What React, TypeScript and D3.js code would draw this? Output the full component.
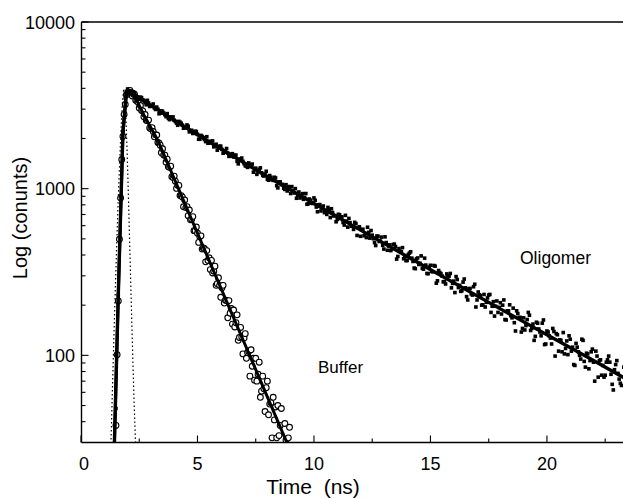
import React from 'react';
import * as d3 from 'd3';

// time-resolved fluorescence decays (TCSPC), counts per channel
const OLIGO_T0 = 1.5;
const OLIGO_DT = 0.1;
const oligomerCounts = [
  48, 230, 900, 2200, 3500,
  3962, 3732, 3763, 3772, 3558, 3448, 3516, 3381, 3187, 3269,
  3140, 3223, 2987, 2998, 2839, 2910, 2781, 2820, 2595, 2659,
  2574, 2475, 2533, 2471, 2306, 2346, 2369, 2215, 2144, 2212,
  2119, 1979, 2059, 1972, 2050, 1875, 1895, 1782, 1848, 1757,
  1798, 1631, 1693, 1636, 1567, 1622, 1582, 1459, 1500, 1527,
  1412, 1362, 1427, 1360, 1256, 1327, 1264, 1333, 1201, 1224,
  1139, 1199, 1132, 1171, 1042, 1098, 1058, 1007, 1057, 1030,
  935, 974, 1001, 913, 879, 934, 885, 806, 867, 819,
  880, 776, 800, 735, 787, 736, 772, 671, 719, 690,
  653, 697, 678, 605, 639, 663, 595, 570, 617, 580,
  518, 571, 536, 587, 505, 526, 475, 520, 482, 512,
  434, 475, 453, 425, 462, 449, 392, 421, 443, 389,
  371, 411, 383, 334, 379, 351, 395, 329, 348, 309,
  347, 317, 343, 280, 314, 299, 277, 308, 299, 254,
  279, 297, 255, 242, 275, 254, 215, 252, 230, 267,
  215, 231, 200, 232, 208, 230, 181, 210, 197, 181,
  207, 200, 164, 185, 201, 168, 157, 185, 168, 138,
  168, 151, 181, 141, 154, 130, 156, 138, 156, 116,
  140, 131, 117, 139, 135, 106, 123, 137, 110, 101,
  125, 112, 87, 112, 100, 125, 92, 103, 83, 105,
  91, 106, 74, 94, 87, 76, 94, 91, 67, 82,
  93, 72, 66, 85,
];

// interleaved channels, half a step later
const OLIGO_T0_B = 2.05;
const oligomerCountsB = [
  3780, 3829, 3813, 3602, 3433, 3544, 3411, 3287, 3388, 3113,
  3157, 3050, 3087, 2814, 2930, 2844, 2704, 2642, 2695, 2694,
  2528, 2401, 2506, 2406, 2314, 2412, 2192, 2240, 2160, 2201,
  1980, 2088, 2024, 1916, 1873, 1926, 1934, 1803, 1702, 1799,
  1721, 1652, 1742, 1562, 1610, 1549, 1591, 1409, 1507, 1459,
  1372, 1342, 1393, 1405, 1299, 1219, 1307, 1246, 1191, 1271,
  1124, 1169, 1121, 1160, 1011, 1098, 1061, 990, 969, 1015,
  1029, 942, 876, 955, 906, 863, 935, 812, 853, 815,
  852, 727, 803, 775, 718, 701, 744, 758, 686, 633,
  702, 663, 627, 692, 588, 625, 596, 628, 524, 591,
  568, 522, 509, 547, 561, 501, 456, 518, 485, 457,
  514, 427, 460, 436, 465, 378, 437, 418, 380, 370,
  403, 418, 366, 331, 384, 357, 333, 383, 310, 339,
  319, 346, 271, 323, 309, 276, 268, 299, 310, 270,
  238, 285, 263, 244, 287, 225, 251, 234, 258, 195,
  240, 228, 201, 195, 221, 232, 197, 172, 212, 194,
  177, 215, 163, 185, 173, 192, 140, 178, 169, 145,
  142, 164, 174, 145, 123, 158, 144, 131, 163, 117,
  138, 127, 145, 99, 133, 124, 105, 102, 122, 131,
  106, 88, 118, 105, 95, 123, 85, 102, 93, 109,
  70, 99, 93, 76, 74, 91, 99, 77, 62, 88,
  78, 68,
];

const BUFFER_T0 = 1.5;
const BUFFER_DT = 0.05;
const bufferCounts = [
  38, 101, 212, 497, 880, 1495, 2060, 2790, 3200, 3660, 3730,
  3780, 3888, 3776, 3597, 3685, 3673, 3392, 3370, 3300, 3046,
  3156, 2949, 2926, 2702, 2784, 2572, 2556, 2578, 2315, 2290,
  2322, 2201, 2047, 2104, 2097, 1894, 1872, 1825, 1643, 1735,
  1592, 1589, 1441, 1504, 1353, 1344, 1364, 1178, 1165, 1190,
  1109, 1004, 1048, 1046, 909, 909, 890, 779, 855, 770,
  780, 689, 745, 651, 656, 680, 560, 560, 589, 540,
  476, 515, 521, 434, 441, 436, 364, 425, 371, 385,
  327, 371, 312, 320, 343, 263, 269, 292, 263, 223,
  254, 263, 206, 214, 213, 168, 213, 179, 191, 154,
  187, 148, 157, 175, 123, 128, 147, 129, 102, 127,
  135, 96, 104, 106, 75, 108, 86, 96, 71, 96,
  70, 77, 91, 56, 61, 75, 63, 46, 64, 70,
  44, 51, 52, 32, 56, 41, 49, 32, 50, 33,
  38, 48, 24, 28, 39, 31, 20, 32, 37, 20,
  25, 26,
];

// instrument response (dotted)
const IRF_T0 = 1.28;
const IRF_DT = 0.05;
const irfCounts = [
  28, 50, 89, 158, 269, 447, 724, 1122, 1700, 2455, 3311, 3980,
  3467, 2630, 1660, 955, 525, 288, 158, 89, 52, 33, 21,
];

// fitted curves [time, counts]
const oligomerFit: [number, number][] = [
  [1.42, 25], [1.6, 230], [1.8, 2200], [1.95, 3850], [2.05, 3880], [2.5, 3512],
  [3, 3160], [4, 2574], [5, 2108], [6, 1733], [7, 1430], [8, 1184], [9, 981],
  [10, 815], [12, 564], [14, 392], [16, 273], [18, 190], [20, 133], [22, 93], [24, 64.7],
];
const bufferFit: [number, number][] = [
  [1.42, 25], [1.6, 230], [1.8, 2150], [1.95, 3700], [2.05, 3820], [2.2, 3700],
  [2.4, 3370], [2.7, 2770], [3.0, 2321], [3.3, 1945], [9.2, 22.8],
];

const xMajor = [0, 5, 10, 15, 20];
const xMinor = [2.5, 7.5, 12.5, 17.5, 22.5];
const yMajor = [100, 1000, 10000];
const yMinor = [40, 50, 60, 70, 80, 90, 200, 300, 400, 500, 600, 700, 800, 900,
  2000, 3000, 4000, 5000, 6000, 7000, 8000, 9000];

const W = 623;
const H = 499;
const left = 81.5;
const top = 22;
const bottom = 442.5;
const FONT = '"Liberation Sans", Arial, sans-serif';

const toPoints = (t0: number, dt: number, counts: number[]) =>
  counts.map((c, i) => [t0 + i * dt, c] as [number, number]);

export default function App() {
  const x = d3.scaleLinear().domain([0, 23.265]).range([81, W]);
  const y = d3.scaleLog().domain([30, 10000]).range([bottom, top]);
  const line = d3.line<[number, number]>().x(d => x(d[0])).y(d => y(d[1]));

  const oligo = toPoints(OLIGO_T0, OLIGO_DT, oligomerCounts)
    .concat(toPoints(OLIGO_T0_B, OLIGO_DT, oligomerCountsB));
  const buffer = toPoints(BUFFER_T0, BUFFER_DT, bufferCounts);
  const irf = toPoints(IRF_T0, IRF_DT, irfCounts);

  return (
    <svg width={W} height={H} style={{ position: 'absolute', left: 0, top: 0, background: '#fff' }}
      fontFamily={FONT}>
      <defs>
        <clipPath id="plot">
          <rect x={left} y={top} width={W - left} height={bottom - top} />
        </clipPath>
      </defs>

      <g clipPath="url(#plot)">
        <path d={line(irf) || ''} fill="none" stroke="#000" strokeWidth={1.2} strokeDasharray="1.5,2.5" />
        {buffer.map((d, i) => (
          <circle key={'b' + i} cx={x(d[0])} cy={y(d[1])} r={2.9} fill="#fff" stroke="#000" strokeWidth={1.1} />
        ))}
        <path d={line(bufferFit) || ''} fill="none" stroke="#000" strokeWidth={3} />
        {oligo.map((d, i) => (
          <rect key={'o' + i} x={x(d[0]) - 1.8} y={y(d[1]) - 1.8} width={3.6} height={3.6} fill="#000" />
        ))}
        <path d={line(oligomerFit) || ''} fill="none" stroke="#000" strokeWidth={3.4} />
      </g>

      {/* frame */}
      <line x1={left} x2={left} y1={top} y2={bottom} stroke="#000" strokeWidth={1.4} />
      <line x1={left} x2={W} y1={bottom} y2={bottom} stroke="#000" strokeWidth={1.4} />
      <line x1={left} x2={W} y1={top} y2={top} stroke="#000" strokeWidth={1.4} />

      {xMajor.map(t => (
        <g key={'xm' + t}>
          <line x1={x(t)} x2={x(t)} y1={bottom} y2={bottom - 7} stroke="#000" strokeWidth={1.1} />
          <text x={x(t) + (t === 0 ? 3 : 0)} y={470} textAnchor="middle" fontSize={18}>{t}</text>
        </g>
      ))}
      {xMinor.map(t => (
        <line key={'xn' + t} x1={x(t)} x2={x(t)} y1={bottom} y2={bottom - 4} stroke="#000" strokeWidth={1.1} />
      ))}
      {yMajor.map(v => (
        <g key={'ym' + v}>
          <line x1={left} x2={left + 7} y1={y(v)} y2={y(v)} stroke="#000" strokeWidth={1.1} />
          <text x={75} y={y(v) + 6.5} textAnchor="end" fontSize={18}>{v}</text>
        </g>
      ))}
      {yMinor.map(v => (
        <line key={'yn' + v} x1={left} x2={left + 4} y1={y(v)} y2={y(v)} stroke="#000" strokeWidth={1.1} />
      ))}

      <text x={313} y={494} textAnchor="middle" fontSize={21} xmlSpace="preserve">Time  (ns)</text>
      <text transform={`translate(27,${218}) rotate(-90)`} textAnchor="middle" fontSize={20}>Log (conunts)</text>

      <text x={318} y={373} fontSize={17}>Buffer</text>
      <text x={520} y={264} fontSize={17.5}>Oligomer</text>
    </svg>
  );
}
